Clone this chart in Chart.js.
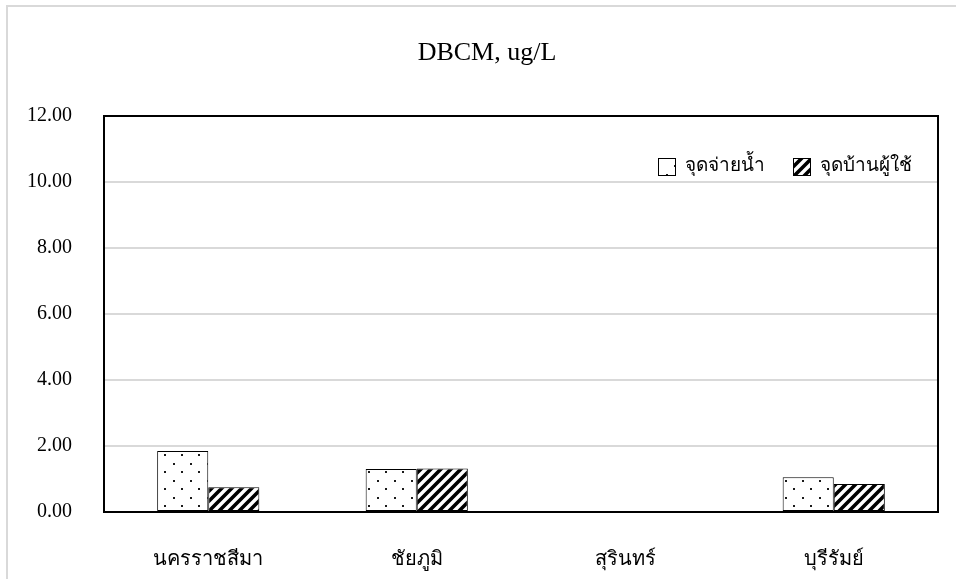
<!DOCTYPE html>
<html>
<head>
<meta charset="utf-8">
<script src="https://cdn.jsdelivr.net/npm/chart.js@4.4.1/dist/chart.umd.min.js"></script>
<style>
  html, body { margin: 0; padding: 0; background: #ffffff; }
  #wrap { width: 956px; height: 579px; position: relative; }
</style>
</head>
<body>
<div id="wrap"><canvas id="c" width="956" height="579"></canvas></div>
<script>
// Provinces along the x axis
const categories = ['นครราชสีมา', 'ชัยภูมิ', 'สุรินทร์', 'บุรีรัมย์'];
// DBCM concentration (ug/L) at the distribution point
const tapPoint = [1.85, 1.30, 0.00, 1.05];
// DBCM concentration (ug/L) at the consumer's house
const homePoint = [0.75, 1.32, 0.00, 0.85];
// Series names
const seriesNames = ['จุดจ่ายน้ำ', 'จุดบ้านผู้ใช้'];
// Value axis
const yTicks = [0, 2, 4, 6, 8, 10, 12];
// Chart heading
const chartTitle = 'DBCM, ug/L';

const FONT = "'Liberation Serif', 'Times New Roman', serif";

// Stippled fill: staggered small dots on white
function dotPattern() {
  const c = document.createElement('canvas');
  c.width = 17; c.height = 17;
  const g = c.getContext('2d');
  g.fillStyle = '#ffffff';
  g.fillRect(0, 0, 17, 17);
  g.fillStyle = '#1a1a1a';
  g.fillRect(3, 4, 2, 2);
  g.fillRect(11, 12, 2, 2);
  return g.createPattern(c, 'repeat');
}

// Wide diagonal hatch (/) on white
function hatchPattern() {
  const s = 10;
  const c = document.createElement('canvas');
  c.width = s; c.height = s;
  const g = c.getContext('2d');
  g.fillStyle = '#ffffff';
  g.fillRect(0, 0, s, s);
  g.strokeStyle = '#000000';
  g.lineWidth = 3.6;
  g.lineCap = 'square';
  g.beginPath();
  g.moveTo(0, s); g.lineTo(s, 0);
  g.moveTo(-s / 2, s / 2); g.lineTo(s / 2, -s / 2);
  g.moveTo(s / 2, s * 1.5); g.lineTo(s * 1.5, s / 2);
  g.stroke();
  return g.createPattern(c, 'repeat');
}

// White page with a light grey frame along the top and left edges
const pageFrame = {
  id: 'pageFrame',
  beforeDraw(chart) {
    const ctx = chart.ctx;
    ctx.save();
    ctx.fillStyle = '#ffffff';
    ctx.fillRect(0, 0, chart.width, chart.height);
    ctx.strokeStyle = '#d9d9d9';
    ctx.lineWidth = 2;
    ctx.beginPath();
    ctx.moveTo(6, 6); ctx.lineTo(chart.width, 6);
    ctx.moveTo(7, 5); ctx.lineTo(7, chart.height);
    ctx.stroke();
    ctx.restore();
  }
};

// Black box around the plot area
const plotFrame = {
  id: 'plotFrame',
  afterDatasetsDraw(chart) {
    const a = chart.chartArea;
    const ctx = chart.ctx;
    ctx.save();
    ctx.strokeStyle = '#000000';
    ctx.lineWidth = 2;
    ctx.strokeRect(a.left, a.top, a.right - a.left, a.bottom - a.top);
    ctx.restore();
  }
};

// Heading centred over the whole figure
const heading = {
  id: 'heading',
  afterDraw(chart) {
    const ctx = chart.ctx;
    ctx.save();
    ctx.font = "26px " + FONT;
    ctx.fillStyle = '#000000';
    ctx.textAlign = 'center';
    ctx.textBaseline = 'middle';
    ctx.fillText(chartTitle, 487, 53);
    ctx.restore();
  }
};

// Single-row key in the upper right corner of the plot, filled with each dataset's own pattern
const insideKey = {
  id: 'insideKey',
  afterDraw(chart) {
    const a = chart.chartArea;
    const ctx = chart.ctx;
    const box = 17, gap = 10, itemGap = 28;
    const cy = a.top + 50;
    ctx.save();
    ctx.font = "19px " + FONT;
    ctx.textBaseline = 'middle';
    ctx.textAlign = 'left';
    const items = chart.data.datasets.map(ds => ({
      ds, w: box + gap + ctx.measureText(ds.label).width
    }));
    const total = items.reduce((s, it) => s + it.w, 0) + itemGap * (items.length - 1);
    let x = a.right - 26 - total;
    items.forEach(it => {
      const bx = Math.round(x) + 0.5, by = Math.round(cy - box / 2) + 0.5;
      ctx.fillStyle = it.ds.backgroundColor;
      ctx.fillRect(bx, by, box, box);
      ctx.strokeStyle = '#000000';
      ctx.lineWidth = 1;
      ctx.strokeRect(bx, by, box, box);
      ctx.fillStyle = '#000000';
      ctx.fillText(it.ds.label, x + box + gap, cy);
      x += it.w + itemGap;
    });
    ctx.restore();
  }
};

new Chart(document.getElementById('c'), {
  type: 'bar',
  data: {
    labels: categories,
    datasets: [
      {
        label: seriesNames[0],
        data: tapPoint,
        backgroundColor: dotPattern(),
        borderColor: '#000000',
        borderWidth: 1,
        borderSkipped: false,
        categoryPercentage: 0.49,
        barPercentage: 1.0
      },
      {
        label: seriesNames[1],
        data: homePoint,
        backgroundColor: hatchPattern(),
        borderColor: '#000000',
        borderWidth: 1,
        borderSkipped: false,
        categoryPercentage: 0.49,
        barPercentage: 1.0
      }
    ]
  },
  options: {
    responsive: false,
    animation: false,
    devicePixelRatio: 1,
    layout: { padding: { left: 0, right: 18, top: 116, bottom: 0 } },
    plugins: {
      title: { display: false },
      legend: { display: false },
      tooltip: { enabled: false }
    },
    scales: {
      x: {
        grid: { display: false, drawTicks: false },
        border: { display: false },
        ticks: {
          color: '#000000',
          font: { family: FONT, size: 20 },
          padding: 36,
          maxRotation: 0
        },
        afterFit(scale) { scale.height = 67; }
      },
      y: {
        min: 0,
        max: 12,
        afterBuildTicks(scale) { scale.ticks = yTicks.map(v => ({ value: v })); },
        grid: { color: '#d9d9d9', lineWidth: 2, drawTicks: false },
        border: { display: false },
        ticks: {
          color: '#000000',
          font: { family: FONT, size: 20 },
          padding: 32,
          callback: v => Number(v).toFixed(2)
        },
        afterFit(scale) { scale.width = 104; }
      }
    }
  },
  plugins: [pageFrame, plotFrame, heading, insideKey]
});
</script>
</body>
</html>
